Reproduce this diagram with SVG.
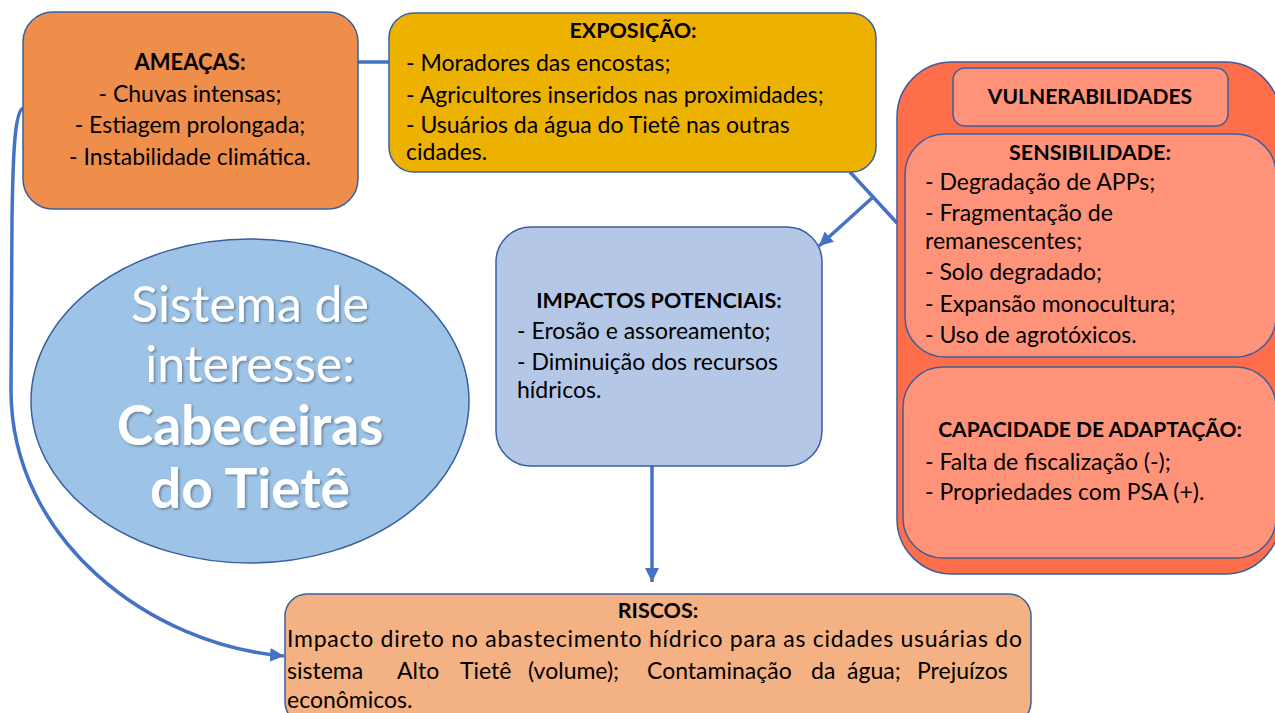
<svg xmlns="http://www.w3.org/2000/svg" width="1275" height="713" viewBox="0 0 1275 713">
<defs>
<style>
text{font-family:Lato,"Open Sans","Liberation Sans",sans-serif;fill:#000;font-size:23px}
.b{font-weight:bold;font-size:21.5px}
.s21{font-size:21px}
.c{text-anchor:middle}
.amb{font-weight:bold;font-size:22px}
.box{stroke:#3A5F9E;stroke-width:1.5}
.con{fill:none;stroke:#4472C4;stroke-width:3.5}
.big{font-size:50px;fill:#fff;text-anchor:middle;filter:url(#sh)}
.bigb{font-size:55px;font-weight:bold;fill:#fff;text-anchor:middle;filter:url(#sh)}
</style>
<filter id="sh" x="-10%" y="-10%" width="120%" height="130%">
<feDropShadow dx="1.5" dy="1.5" stdDeviation="1" flood-color="#000" flood-opacity="0.35"/>
</filter>
<marker id="ar" markerUnits="userSpaceOnUse" markerWidth="16" markerHeight="16" refX="14" refY="7" orient="auto">
<path d="M0,0 L14,7 L0,14 Z" fill="#4472C4"/>
</marker>
</defs>

<g id="connectors">
<line class="con" x1="358" y1="62" x2="389" y2="62"/>
<path class="con" d="M23,108 C15,112 13,150 12,220 L11,390 C11,540 150,645 284,656" marker-end="url(#ar)"/>
<line class="con" x1="850" y1="172" x2="897" y2="223"/>
<line class="con" x1="872" y1="198" x2="819" y2="246" marker-end="url(#ar)"/>
<line class="con" x1="652" y1="466" x2="652" y2="582" marker-end="url(#ar)"/>
</g>

<g id="ameacas">
<rect class="box" x="23" y="12" width="335" height="197" rx="30" fill="#EF8D4B"/>
<text class="amb c" x="190" y="70">AMEAÇAS:</text>
<text class="c" x="190" y="102">- Chuvas intensas;</text>
<text class="c" x="190" y="133">- Estiagem prolongada;</text>
<text class="c" x="190" y="165">- Instabilidade climática.</text>
</g>

<g id="exposicao">
<rect class="box" x="389" y="13" width="487" height="159" rx="25" fill="#EDB200"/>
<text class="b c" x="633" y="38">EXPOSIÇÃO:</text>
<text x="406" y="71">- Moradores das encostas;</text>
<text x="406" y="103">- Agricultores inseridos nas proximidades;</text>
<text x="406" y="133">- Usuários da água do Tietê nas outras</text>
<text x="406" y="160">cidades.</text>
</g>

<g id="vulnerabilidades">
<rect class="box" x="897" y="62" width="383" height="512" rx="55" fill="#FF6E4B"/>
<rect class="box" x="953" y="68" width="275" height="58" rx="12" fill="#FF937A"/>
<text class="b s21 c" x="1090" y="104">VULNERABILIDADES</text>
</g>

<g id="sensibilidade">
<rect class="box" x="905" y="134" width="371" height="223" rx="40" fill="#FF937A"/>
<text class="b c" x="1090" y="160">SENSIBILIDADE:</text>
<text x="925" y="190">- Degradação de APPs;</text>
<text x="925" y="221">- Fragmentação de</text>
<text x="925" y="249">remanescentes;</text>
<text x="925" y="280">- Solo degradado;</text>
<text x="925" y="312">- Expansão monocultura;</text>
<text x="925" y="343">- Uso de agrotóxicos.</text>
</g>

<g id="capacidade">
<rect class="box" x="903" y="367" width="373" height="191" rx="40" fill="#FF937A"/>
<text class="b s21 c" x="1090" y="437">CAPACIDADE DE ADAPTAÇÃO:</text>
<text x="925" y="470">- Falta de fiscalização (-);</text>
<text x="925" y="500">- Propriedades com PSA (+).</text>
</g>

<g id="impactos">
<rect class="box" x="496" y="227" width="326" height="239" rx="35" fill="#B4C7E7"/>
<text class="b c" x="659" y="308">IMPACTOS POTENCIAIS:</text>
<text x="517" y="339">- Erosão e assoreamento;</text>
<text x="517" y="370">- Diminuição dos recursos</text>
<text x="517" y="398">hídricos.</text>
</g>

<g id="sistema">
<ellipse class="box" cx="250" cy="401" rx="219" ry="162" fill="#9DC3E6"/>
<text class="big" x="250" y="322">Sistema de</text>
<text class="big" x="250" y="382">interesse:</text>
<text class="bigb" x="250" y="445">Cabeceiras</text>
<text class="bigb" x="250" y="508">do Tietê</text>
</g>

<g id="riscos">
<rect class="box" x="285" y="594" width="746" height="130" rx="22" fill="#F4B183"/>
<text class="b c" x="658" y="618">RISCOS:</text>
<text x="287" y="647" textLength="735" lengthAdjust="spacing">Impacto direto no abastecimento hídrico para as cidades usuárias do</text>
<text y="679"><tspan x="287">sistema</tspan><tspan x="397">Alto</tspan><tspan x="460">Tietê</tspan><tspan x="528">(volume);</tspan><tspan x="647">Contaminação</tspan><tspan x="811">da</tspan><tspan x="847">água;</tspan><tspan x="917">Prejuízos</tspan></text>
<text x="287" y="708">econômicos.</text>
</g>
</svg>
